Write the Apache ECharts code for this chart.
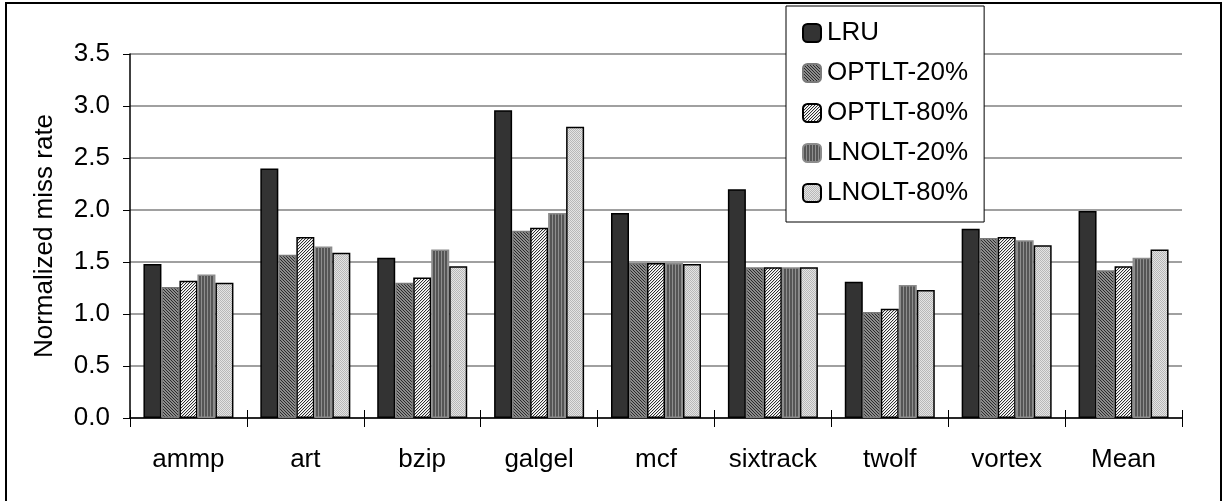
<!DOCTYPE html>
<html>
<head>
<meta charset="utf-8">
<script src="https://cdn.jsdelivr.net/npm/echarts@6/dist/echarts.min.js"></script>
<style>
html,body{margin:0;padding:0;background:#fff;}
#main{width:1224px;height:501px;}
</style>
</head>
<body>
<div id="main"></div>
<script>
var categories = ['ammp','art','bzip','galgel','mcf','sixtrack','twolf','vortex','Mean'];
var seriesNames = ['LRU','OPTLT-20%','OPTLT-80%','LNOLT-20%','LNOLT-80%'];
var lru      = [1.48, 2.40, 1.54, 2.96, 1.97, 2.20, 1.31, 1.82, 1.99];
var optlt20  = [1.26, 1.57, 1.30, 1.80, 1.49, 1.45, 1.02, 1.73, 1.42];
var optlt80  = [1.32, 1.74, 1.35, 1.83, 1.49, 1.45, 1.05, 1.74, 1.46];
var lnolt20  = [1.38, 1.65, 1.62, 1.97, 1.49, 1.45, 1.28, 1.71, 1.54];
var lnolt80  = [1.30, 1.59, 1.46, 2.80, 1.48, 1.45, 1.23, 1.66, 1.62];
var yTicks = [0, 0.5, 1.0, 1.5, 2.0, 2.5, 3.0, 3.5];

function makePattern(size, fn) {
  var c = document.createElement('canvas');
  c.width = size; c.height = size;
  var ctx = c.getContext('2d');
  for (var x = 0; x < size; x++) {
    for (var y = 0; y < size; y++) {
      ctx.fillStyle = fn(x, y);
      ctx.fillRect(x, y, 1, 1);
    }
  }
  return { image: c, repeat: 'repeat' };
}
var patO20 = makePattern(3, function(x,y){ return ((x - y + 6) % 3 === 0) ? '#2a2a2a' : '#8c8c8c'; });
var patO80 = makePattern(3, function(x,y){ var k = (x + y) % 3; return k === 0 ? '#303030' : (k === 1 ? '#d8d8d8' : '#ffffff'); });
var patL20 = makePattern(3, function(x,y){ return (x % 3 === 0) ? '#8e8e8e' : '#555555'; });
var patL80 = makePattern(2, function(x,y){ return ((x + y) % 2 === 0) ? '#b8b8b8' : '#e4e4e4'; });

var fills = ['#333333', patO20, patO80, patL20, patL80];
var borders = ['#000000', '#7a7a7a', '#000000', '#8c8c8c', '#000000'];
var dataSets = [lru, optlt20, optlt80, lnolt20, lnolt80];

var FONT = "'Liberation Sans', Arial, sans-serif";
var chart = echarts.init(document.getElementById('main'), null, {renderer: 'canvas'});

var series = seriesNames.map(function(name, i){
  return {
    name: name,
    type: 'bar',
    data: dataSets[i],
    barWidth: 18,
    barGap: '0%',
    itemStyle: { color: fills[i], borderColor: borders[i], borderWidth: 1.5 },
    emphasis: { disabled: true },
    animation: false
  };
});

chart.setOption({
  animation: false,
  backgroundColor: '#ffffff',
  graphic: [{
    type: 'rect',
    shape: { x: 6, y: 3, width: 1215, height: 530 },
    style: { fill: 'none', stroke: '#000', lineWidth: 2 },
    z: 0
  }],
  grid: { left: 130, right: 42, top: 54, bottom: 83 },
  legend: {
    data: seriesNames,
    orient: 'vertical',
    left: 786, top: 6,
    padding: [14, 16, 16, 16],
    itemWidth: 18, itemHeight: 18,
    itemGap: 14,
    backgroundColor: '#ffffff',
    borderColor: '#000000',
    borderWidth: 1,
    textStyle: { fontFamily: FONT, fontSize: 26, color: '#000', padding: [0,0,0,1] },
    z: 10
  },
  xAxis: [{
    type: 'category',
    data: categories,
    boundaryGap: true,
    axisLine: { show: true, lineStyle: { color: '#000', width: 1.5 } },
    axisTick: { show: true, interval: 0, length: 9, lineStyle: { color: '#000', width: 1 } },
    axisLabel: { fontFamily: FONT, fontSize: 26, color: '#000', margin: 29, interval: 0 },
    splitLine: { show: false }
  }, {
    type: 'category',
    data: categories,
    position: 'bottom',
    boundaryGap: true,
    axisLine: { show: false },
    axisTick: { show: true, inside: true, interval: 0, length: 8, lineStyle: { color: '#000', width: 1 } },
    axisLabel: { show: false },
    splitLine: { show: false }
  }],
  yAxis: {
    type: 'value',
    min: 0, max: 3.5, interval: 0.5,
    name: 'Normalized miss rate',
    nameLocation: 'middle',
    nameGap: 72,
    nameTextStyle: { fontFamily: FONT, fontSize: 26, color: '#000' },
    axisLine: { show: true, lineStyle: { color: '#000', width: 1.5 } },
    axisTick: { show: true, length: 7, lineStyle: { color: '#000', width: 1 } },
    axisLabel: {
      fontFamily: FONT, fontSize: 26, color: '#000', margin: 20,
      formatter: function(v){ return yTicks.indexOf(v) >= 0 ? v.toFixed(1) : ''; }
    },
    splitLine: { show: true, lineStyle: { color: '#808080', width: 1.5 } }
  },
  series: series
});
</script>
</body>
</html>
